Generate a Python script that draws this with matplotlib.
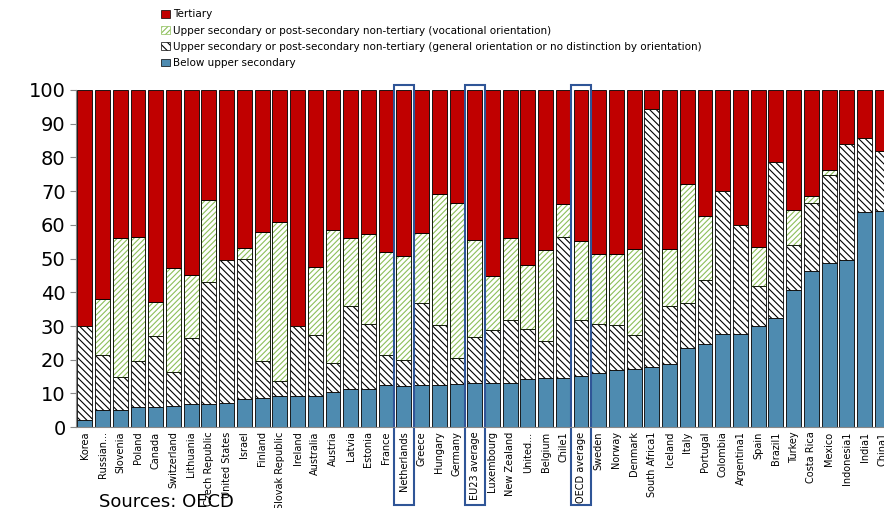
import matplotlib.pyplot as plt
from matplotlib.patches import Rectangle, Patch
import numpy as np

countries = ["Korea", "Russian...", "Slovenia", "Poland", "Canada", "Switzerland", "Lithuania",
             "Czech Republic", "United States", "Israel", "Finland", "Slovak Republic", "Ireland",
             "Australia", "Austria", "Latvia", "Estonia", "France", "Netherlands", "Greece",
             "Hungary", "Germany", "EU23 average", "Luxembourg", "New Zealand", "United...",
             "Belgium", "Chile1", "OECD average", "Sweden", "Norway", "Denmark", "South Africa1",
             "Iceland", "Italy", "Portugal", "Colombia", "Argentina1", "Spain", "Brazil1", "Turkey",
             "Costa Rica", "Mexico", "Indonesia1", "India1", "China1"]

# cumulative tops
below = [2, 5, 5, 6, 6, 6.3, 7, 7, 7.2, 8.5, 8.6, 9.2, 9.2, 9.4, 10.5, 11.4, 11.4, 12.4, 12.3, 12.4,
         12.6, 12.9, 13.1, 13.1, 13.2, 14.4, 14.7, 14.7, 15.2, 16.1, 17.1, 17.3, 17.8, 18.6, 23.6,
         24.6, 27.5, 27.7, 30, 32.5, 40.8, 46.3, 48.6, 49.7, 63.8, 64.2]
general_top = [30, 21.5, 15, 19.5, 27, 16.3, 26.5, 43, 49.5, 50, 19.5, 13.6, 30, 27.2, 19, 36, 30.6,
               21.4, 20, 36.8, 30.2, 20.6, 26.7, 28.7, 31.7, 29.2, 25.5, 56.3, 31.7, 30.7, 30.4,
               27.4, 94.3, 36, 36.7, 43.5, 70, 60, 42, 78.6, 54, 66.6, 74.8, 83.9, 85.8, 82]
vocational_top = [30, 38, 56, 56.5, 37, 47.3, 45, 67.5, 49.5, 53, 58, 60.7, 30, 47.5, 58.5, 56.2, 57.3,
                  52, 50.8, 57.6, 69.2, 66.5, 55.4, 44.9, 56, 48, 52.6, 66.1, 55.2, 51.5, 51.3,
                  52.7, 94.3, 52.9, 72.2, 62.5, 70, 60, 53.4, 78.6, 64.5, 68.5, 76.4, 83.9, 85.8, 82]
highlight = ["Netherlands", "EU23 average", "OECD average"]

below = np.array(below)
general_top = np.array(general_top)
vocational_top = np.array(vocational_top)
x = np.arange(len(countries))
w = 0.84

plt.rcParams['hatch.linewidth'] = 0.8
fig = plt.figure(figsize=(8.84, 5.08), dpi=100)
ax = fig.add_axes([0.086, 0.159, 0.914, 0.664])

ax.bar(x, below, w, color='#4E8BB0', edgecolor='black', linewidth=0.6)
ax.bar(x, general_top - below, w, bottom=below, color='white', edgecolor='black',
       linewidth=0.6, hatch='\\\\\\\\\\')
vb = ax.bar(x, vocational_top - general_top, w, bottom=general_top, color='white',
            edgecolor='#8DBF5A', linewidth=0.6, hatch='//////')
for b in vb:
    if b.get_height() > 0:
        ax.add_patch(Rectangle(b.get_xy(), b.get_width(), b.get_height(), fill=False,
                               edgecolor='black', linewidth=0.6))
ax.bar(x, 100 - vocational_top, w, bottom=vocational_top, color='#C00000', edgecolor='black',
       linewidth=0.6)

ax.set_xlim(-0.5, 45.1)
ax.set_ylim(0, 100)
ax.set_yticks(range(0, 101, 10))
ax.tick_params(axis='y', labelsize=14, length=4, color='#888888')
ax.set_xticks(x)
ax.set_xticklabels(countries, rotation=90, fontsize=7)
ax.tick_params(axis='x', length=0, pad=3)
for s in ['top', 'right']:
    ax.spines[s].set_visible(False)
ax.spines['left'].set_color('#888888')
ax.spines['bottom'].set_color('#888888')

for name in highlight:
    i = countries.index(name)
    ax.add_patch(Rectangle((i - 0.57, -23), 1.14, 124.5, fill=False, edgecolor='#2F5597',
                           linewidth=1.5, clip_on=False))

handles = [Patch(facecolor='#C00000', edgecolor='black', linewidth=0.5),
           Patch(facecolor='white', edgecolor='#8DBF5A', hatch='//////', linewidth=0.5),
           Patch(facecolor='white', edgecolor='black', hatch='\\\\\\\\', linewidth=0.5),
           Patch(facecolor='#4E8BB0', edgecolor='black', linewidth=0.5)]
labels = ["Tertiary",
          "Upper secondary or post-secondary non-tertiary (vocational orientation)",
          "Upper secondary or post-secondary non-tertiary (general orientation or no distinction by orientation)",
          "Below upper secondary"]
fig.legend(handles, labels, loc='upper left', bbox_to_anchor=(0.172, 1.0), frameon=False,
           fontsize=7.5, handlelength=0.8, handleheight=0.8, handletextpad=0.3, labelspacing=0.6)

fig.text(0.112, -0.005, "Sources: OECD", fontsize=13, va='bottom')

fig.savefig("out.png", dpi=100)
